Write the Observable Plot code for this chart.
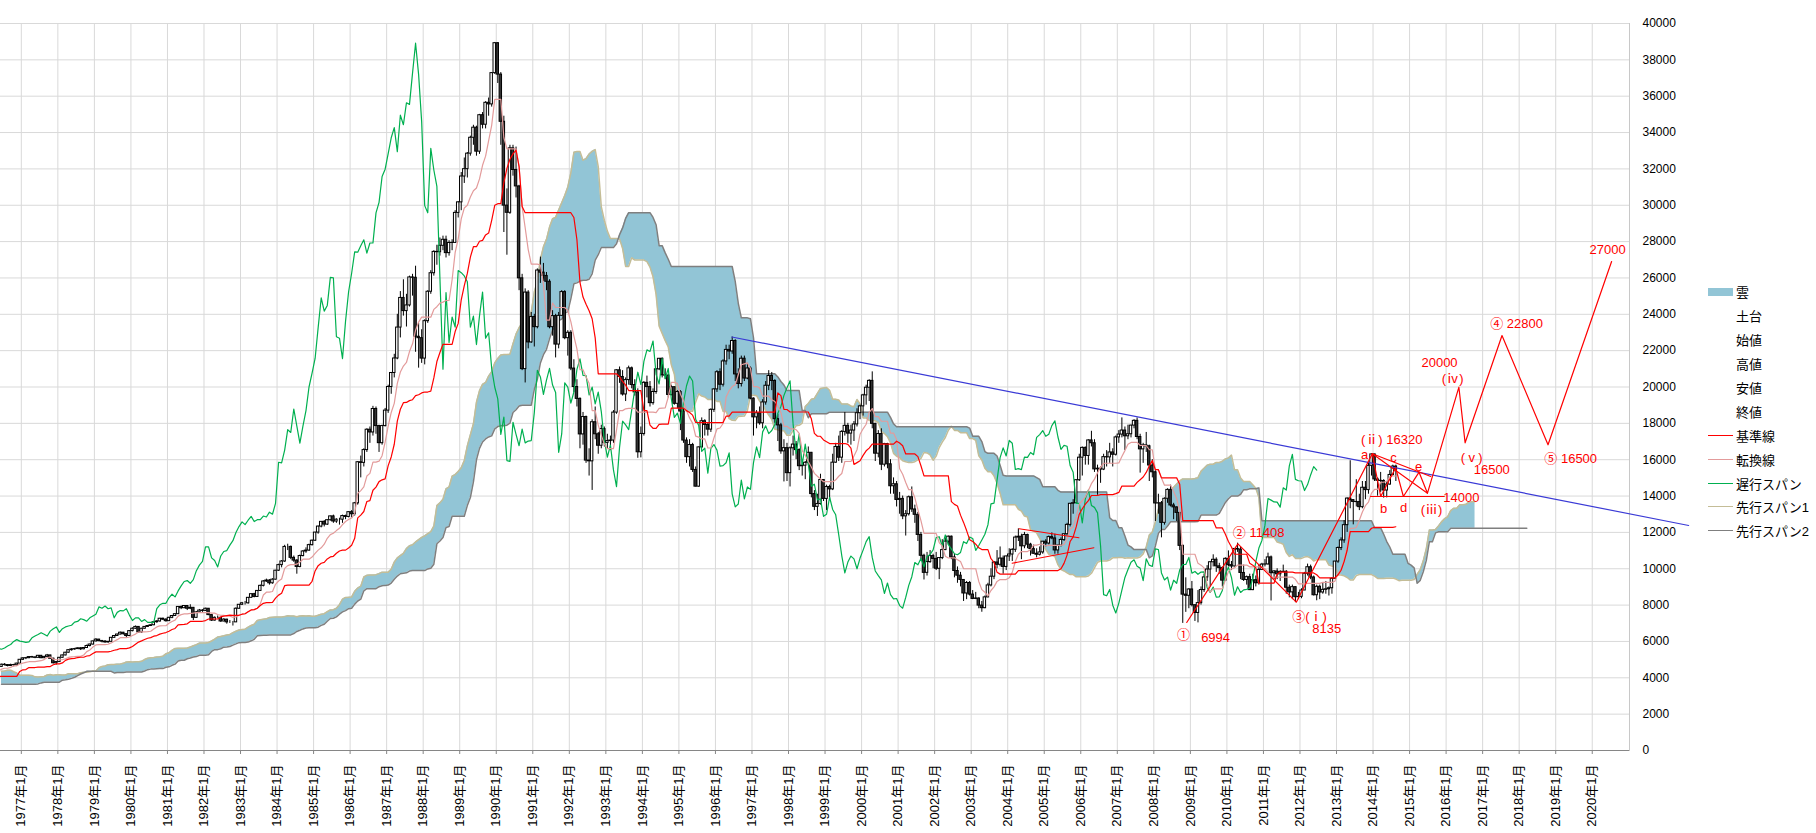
<!DOCTYPE html>
<html><head><meta charset="utf-8">
<script src="https://cdn.jsdelivr.net/npm/d3@7"></script>
<script src="https://cdn.jsdelivr.net/npm/@observablehq/plot@0.6"></script>
<style>
body{margin:0;background:#fff;}
#wrap{position:relative;width:1816px;height:833px;overflow:hidden;}
#legend{position:absolute;left:1708px;top:280px;font:13px "Liberation Sans","Noto Sans CJK JP",sans-serif;color:#000;}
#legend .it{height:23.9px;display:flex;align-items:center;white-space:nowrap;}
#legend .sw{width:25px;margin-right:3px;flex:none;}
</style></head><body>
<div id="wrap"><div id="chart"></div><div id="legend"></div></div>
<script>
// Monthly Nikkei 225 data, starting January 1970 (one row per year)
const startYear = 1970;
const opens = [
2359,2360,2390,2410,2230,2200,2140,2050,1990,2000,2010,1960,
1987,2100,2190,2360,2470,2500,2600,2720,2420,2470,2510,2600,
2714,2900,3080,3230,3400,3500,3700,4000,4400,4250,4300,4700,
5208,5000,4900,4880,4560,4780,4950,4800,4700,4650,4730,4300,
4307,4320,4330,4350,4280,4400,4340,4150,3850,3700,3750,3900,
3817,4050,4320,4370,4400,4480,4530,4260,4100,4160,4350,4280,
4359,4620,4760,4620,4590,4600,4720,4700,4650,4700,4690,4780,
4991,5070,5080,5140,5120,5100,5210,5080,5150,5230,5050,4800,
4866,5100,5230,5380,5520,5560,5580,5620,5570,5640,5750,5830,
6002,6100,6020,5990,5950,5980,6200,6300,6380,6480,6400,6300,
6569,6700,6800,6500,6700,6800,6850,6890,7060,7100,7250,7200,
7116,7300,7400,7500,7900,7830,7950,7800,7850,7300,7600,7700,
7682,7800,7450,7150,7300,7300,7100,7200,7050,7050,7050,7800,
8017,8100,8100,8400,8600,8450,8780,9060,9300,9350,9200,9400,
9894,10200,10400,11200,11200,10600,10450,10100,10700,10950,11000,11300,
11543,11990,12320,12580,12430,12670,12880,12600,12700,12700,12900,12850,
13113,13000,13600,15860,15825,16530,17650,17500,18790,17850,16910,17850,
18701,20000,20770,21570,23270,24900,24176,24488,26029,26010,22765,22686,
21564,23622,25242,26260,27434,27417,27769,28100,27366,27924,27929,29579,
30159,31581,31986,32839,33713,34267,32949,34954,34431,35637,35549,37269,
38916,37189,34592,29980,29585,33131,31940,31036,25979,20984,25195,22455,
23849,23293,26409,26292,26111,25790,23291,23900,22336,23916,25222,22687,
22984,21014,20000,19346,17391,18348,15952,15910,18061,17399,16768,17684,
16925,17024,17054,18591,20919,20552,19590,20380,21027,20106,19703,16408,
17417,20229,19997,19112,19725,20973,21552,20642,20629,19564,19990,19076,
19723,18650,17053,16140,16807,15437,14517,16678,18117,17913,17655,18744,
19868,20813,20125,21407,22041,21956,22531,20693,20167,21556,20467,21020,
19361,18330,18557,18003,19151,20069,20605,20331,18229,17888,16459,16636,
15259,16628,16832,16527,15641,15671,15830,16379,14108,13406,13565,14884,
13842,14499,14368,15837,16702,16112,17530,17862,17437,17605,17942,18558,
18934,19540,19960,20337,17974,16332,17411,15727,16861,15747,14539,14649,
13786,13844,12884,12999,13934,13262,12969,11861,10714,9775,10366,10697,
10543,9998,10588,11025,11493,11764,10622,9877,9619,9383,8640,9216,
8579,8340,8363,7973,7831,8425,9083,9563,10344,10219,10560,10101,
10677,10784,11042,11715,11762,11236,11859,11326,11082,10824,10771,10899,
11489,11388,11741,11668,11009,11277,11584,11900,12414,13574,13607,14872,
16111,16650,16206,17060,16906,15467,15505,15457,16141,16128,16399,16274,
17226,17383,17604,17288,17400,17876,18138,17249,16569,16786,16738,15681,
15308,13592,13604,12526,13850,14339,13482,13377,13073,11260,8577,8512,
8860,7994,7568,8110,8828,9523,9958,10357,10493,10133,10035,9346,
10546,10198,10126,11090,11057,9769,9383,9537,8824,9369,9202,9937,
10229,10238,10624,9755,9850,9694,9816,9833,8955,8700,8988,8435,
8455,8803,9723,10084,9521,8543,9007,8695,8840,8870,8928,9446,
10395,11139,11559,12398,13861,13775,13677,13668,13389,14456,14328,15662,
16291,14915,14841,14828,14304,14632,15162,15621];
const highs = [
2420,2430,2530,2440,2290,2250,2170,2080,2060,2060,2040,2010,
2120,2210,2380,2500,2540,2620,2740,2740,2500,2540,2630,2730,
2920,3100,3260,3430,3560,3720,4030,4450,4450,4400,4720,5230,
5359,5100,5000,4900,4800,5000,5000,4850,4760,4800,4750,4450,
4500,4450,4450,4400,4500,4450,4360,4160,3900,3800,3950,3930,
4080,4350,4400,4450,4520,4570,4560,4280,4200,4380,4380,4380,
4650,4800,4790,4680,4650,4750,4780,4730,4750,4740,4800,5000,
5100,5120,5170,5180,5150,5230,5230,5180,5287,5240,5080,4900,
5120,5250,5400,5540,5600,5620,5650,5660,5660,5800,5850,6020,
6150,6120,6060,6050,6000,6220,6330,6400,6520,6500,6420,6590,
6750,6850,6820,6720,6820,6880,6920,7080,7150,7270,7280,7250,
7330,7420,7530,7920,7950,7970,7980,8019,7870,7650,7760,7750,
7830,7810,7460,7350,7400,7320,7250,7220,7150,7100,7850,8030,
8150,8200,8420,8620,8650,8800,9100,9350,9430,9400,9450,9910,
10250,10450,11290,11350,11250,10700,10500,10750,11000,11150,11350,11580,
12000,12350,12600,12650,12700,12900,12950,12750,12780,12950,12950,13130,
13200,13650,15900,16200,16600,17700,17800,18936,18900,17900,17900,18820,
20100,20800,21800,24000,25250,25900,25100,26100,26200,26646,23500,23150,
23700,25300,26400,27500,27800,28200,28300,28300,28050,28100,29700,30200,
31800,32600,32900,33800,34400,34350,35000,35100,35700,35900,37300,38957,
38950,37300,34900,30900,33300,33300,33200,31100,26200,25400,25300,24100,
24000,26500,27146,26800,26300,25900,24200,24000,24100,25300,25300,23100,
23100,21500,20400,19400,18600,18400,16600,18200,18900,17500,17900,17800,
17400,17300,18700,20950,21100,20900,20500,21148,21100,20400,19900,17800,
20300,20600,20300,19900,21000,21573,21600,21000,20700,20100,20000,19800,
19800,18800,17200,17100,16900,15600,16700,18300,18200,18000,18800,19900,
20900,21000,21500,22300,22300,22750,22600,21000,21700,21700,21300,21100,
19400,18700,18900,19300,20300,20900,20800,20400,18500,18000,17100,16900,
16700,17300,17000,16600,16000,15900,16700,16400,14300,14100,15200,14900,
14600,14600,16300,16900,17300,17600,18600,18000,17900,18100,18800,19000,
19600,20100,20400,20833,18000,17600,17700,16900,16900,16000,15000,14800,
14200,14000,13200,14000,14500,13500,13100,12000,10800,10900,11000,10800,
10900,10600,11600,11700,11800,11800,10800,10100,9800,9400,9300,9300,
8800,8700,8400,8200,8500,9200,10000,10400,11000,11200,10700,10700,
11100,11100,11800,12195,11900,12000,11900,11400,11300,11100,11200,11500,
11600,11800,11975,11900,11300,11700,11900,12500,13600,13800,14900,16300,
16700,16700,17100,17563,17100,15700,15600,16300,16500,16900,16600,17300,
17600,18300,17800,17900,17900,18200,18297,17400,16900,17500,16800,16000,
15400,14100,13700,13900,14400,14600,13600,13400,13100,11300,9500,8900,
9300,8000,8800,9000,9700,10170,10400,10767,10600,10300,10100,10600,
10982,10400,11100,11408,11200,10200,9600,9700,9700,9600,10200,10300,
10500,10858,10700,9900,10000,9900,10200,9900,9100,9100,9000,8700,
8900,9800,10255,10200,9600,9100,9100,9200,9300,9000,9500,10400,
11200,11700,12650,13900,15942,13800,14900,14100,14800,14800,15800,16320,
16300,15000,15300,14900,14800,15400,15700,15700];
const lows = [
2300,2330,2370,2120,2100,2100,2020,1930,1940,1970,1930,1940,
1970,2080,2170,2340,2440,2480,2580,2160,2380,2420,2480,2580,
2700,2880,3060,3200,3380,3480,3680,3980,4150,4200,4280,4680,
4900,4750,4700,4500,4500,4750,4750,4600,4550,4600,4250,4180,
4150,4200,4250,4200,4260,4250,4100,3800,3600,3355,3700,3780,
3780,4030,4280,4330,4380,4450,4240,4050,3950,4150,4250,4250,
4350,4600,4600,4520,4520,4580,4650,4600,4620,4600,4650,4770,
4950,5000,5050,5080,5050,5080,5050,5050,5130,5030,4760,4700,
4850,5080,5210,5360,5470,5520,5560,5500,5540,5620,5700,5800,
5980,5980,5920,5900,5900,5960,6180,6280,6360,6350,6200,6280,
6530,6670,6450,6450,6680,6770,6820,6870,7000,7060,7150,7060,
7100,7250,7380,7480,7750,7800,7700,7750,7150,7280,7550,7600,
7650,7420,7100,7120,7250,7050,7080,6950,6990,6849,7040,7760,
7990,8000,8050,8380,8400,8420,8750,9000,9250,9100,9150,9380,
9850,10050,10350,11000,10500,10350,9700,10050,10650,10850,10950,11250,
11500,11900,12250,12300,12380,12620,12500,12500,12400,12500,12700,12800,
12800,12900,13500,15000,15600,16400,16900,17300,17400,16400,16800,17800,
18550,19600,20500,21500,22700,23900,23300,24400,25000,21910,21037,21300,
21217,23500,25100,26100,26700,27200,27500,27100,27200,27500,27900,29300,
29700,31200,31500,32700,33300,32700,32800,34200,34200,34900,35400,37200,
36700,33300,28500,27251,29500,31600,30400,25300,20900,20222,22100,22400,
22200,23200,25700,25800,25300,23200,22800,21600,22100,23900,22600,21700,
20900,19700,18900,16600,16800,15800,15100,14309,17100,16300,16600,16700,
16600,16500,16900,18500,20200,19500,19200,20100,19900,19500,16078,16100,
17300,19400,18900,19000,19600,20900,20500,20400,19400,19500,19000,18800,
17600,16900,15800,15600,15300,14500,14485,16600,17300,17300,17500,18600,
19700,19800,20000,21200,21500,21800,20300,19900,20000,20300,20400,19300,
17300,17700,17900,17700,19000,19800,19800,18000,17000,16300,14776,14800,
14500,16200,16000,15400,15100,14900,15700,13900,13200,12879,13500,13700,
13200,13800,14300,15800,15900,15800,17300,16900,16800,17000,17800,18200,
18400,19000,19200,17700,15900,16100,15400,15600,15500,14100,14100,13400,
13000,12700,11800,12900,13100,12500,11500,10500,9382,9600,10300,10000,
9900,9400,10500,11000,11300,10500,9500,9200,9000,8200,8300,8500,
8300,8300,7800,7607,7800,8400,9000,9400,10000,10100,9700,9900,
10400,10400,10900,11500,10500,11100,11100,10700,10800,10600,10700,10800,
11200,11300,11600,10800,10800,11200,11500,11800,12300,13000,13600,14800,
15100,15700,15700,16700,15300,14045,14700,15400,15600,15800,15600,16200,
16900,17200,16500,17100,17200,17700,17100,15262,15800,16400,14800,15000,
12600,13000,11700,12400,13600,13400,12700,12600,11000,6994,7600,7800,
7900,7100,7021,8000,8700,9300,9000,10100,9800,9700,9000,9300,
10100,9900,10100,10900,9400,9300,9100,8800,8796,9000,9100,9900,
10100,10200,8227,9400,9400,9300,9800,8600,8400,8300,8135,8300,
8350,8800,9600,9400,8500,8238,8300,8600,8600,8500,8600,9400,
10300,11000,11400,12000,13300,12415,13400,13200,13300,13800,14100,15100,
14800,13995,14200,13885,13900,14600,15100,14800];
const closes = [
2360,2390,2410,2230,2200,2140,2050,1990,2000,2010,1960,1987,
2100,2190,2360,2470,2500,2600,2720,2420,2470,2510,2600,2714,
2900,3080,3230,3400,3500,3700,4000,4400,4250,4300,4700,5208,
5000,4900,4880,4560,4780,4950,4800,4700,4650,4730,4300,4307,
4320,4330,4350,4280,4400,4340,4150,3850,3700,3750,3900,3817,
4050,4320,4370,4400,4480,4530,4260,4100,4160,4350,4280,4359,
4620,4760,4620,4590,4600,4720,4700,4650,4700,4690,4780,4991,
5070,5080,5140,5120,5100,5210,5080,5150,5230,5050,4800,4866,
5100,5230,5380,5520,5560,5580,5620,5570,5640,5750,5830,6002,
6100,6020,5990,5950,5980,6200,6300,6380,6480,6400,6300,6569,
6700,6800,6500,6700,6800,6850,6890,7060,7100,7250,7200,7116,
7300,7400,7500,7900,7830,7950,7800,7850,7300,7600,7700,7682,
7800,7450,7150,7300,7300,7100,7200,7050,7050,7050,7800,8017,
8100,8100,8400,8600,8450,8780,9060,9300,9350,9200,9400,9894,
10200,10400,11200,11200,10600,10450,10100,10700,10950,11000,11300,11543,
11990,12320,12580,12430,12670,12880,12600,12700,12700,12900,12850,13113,
13000,13600,15860,15825,16530,17650,17500,18790,17850,16910,17850,18701,
20000,20770,21570,23270,24900,24176,24488,26029,26010,22765,22686,21564,
23622,25242,26260,27434,27417,27769,28100,27366,27924,27929,29579,30159,
31581,31986,32839,33713,34267,32949,34954,34431,35637,35549,37269,38916,
37189,34592,29980,29585,33131,31940,31036,25979,20984,25195,22455,23849,
23293,26409,26292,26111,25790,23291,23900,22336,23916,25222,22687,22984,
21014,20000,19346,17391,18348,15952,15910,18061,17399,16768,17684,16925,
17024,17054,18591,20919,20552,19590,20380,21027,20106,19703,16408,17417,
20229,19997,19112,19725,20973,21552,20642,20629,19564,19990,19076,19723,
18650,17053,16140,16807,15437,14517,16678,18117,17913,17655,18744,19868,
20813,20125,21407,22041,21956,22531,20693,20167,21556,20467,21020,19361,
18330,18557,18003,19151,20069,20605,20331,18229,17888,16459,16636,15259,
16628,16832,16527,15641,15671,15830,16379,14108,13406,13565,14884,13842,
14499,14368,15837,16702,16112,17530,17862,17437,17605,17942,18558,18934,
19540,19960,20337,17974,16332,17411,15727,16861,15747,14539,14649,13786,
13844,12884,12999,13934,13262,12969,11861,10714,9775,10366,10697,10543,
9998,10588,11025,11493,11764,10622,9877,9619,9383,8640,9216,8579,
8340,8363,7973,7831,8425,9083,9563,10344,10219,10560,10101,10677,
10784,11042,11715,11762,11236,11859,11326,11082,10824,10771,10899,11489,
11388,11741,11668,11009,11277,11584,11900,12414,13574,13607,14872,16111,
16650,16206,17060,16906,15467,15505,15457,16141,16128,16399,16274,17226,
17383,17604,17288,17400,17876,18138,17249,16569,16786,16738,15681,15308,
13592,13604,12526,13850,14339,13482,13377,13073,11260,8577,8512,8860,
7994,7568,8110,8828,9523,9958,10357,10493,10133,10035,9346,10546,
10198,10126,11090,11057,9769,9383,9537,8824,9369,9202,9937,10229,
10238,10624,9755,9850,9694,9816,9833,8955,8700,8988,8435,8455,
8803,9723,10084,9521,8543,9007,8695,8840,8870,8928,9446,10395,
11139,11559,12398,13861,13775,13677,13668,13389,14456,14328,15662,16291,
14915,14841,14828,14304,14632,15162,15621,15425];

// Axis ticks
const yearTicks = d3.range(1977, 2021);
const yTicks = d3.range(0, 40001, 2000);

// Wave-count annotations (t = decimal year)
const wavePoints = [
  {t:2008.90,v:7043},{t:2010.30,v:11372},{t:2011.90,v:8160},{t:2013.98,v:16324},
  {t:2014.21,v:13975},{t:2014.62,v:15554},{t:2014.83,v:13975},{t:2015.26,v:15313},
  {t:2015.49,v:14157},{t:2016.35,v:19989},{t:2016.52,v:16930},{t:2017.53,v:22833},
  {t:2018.79,v:16819},{t:2020.53,v:26905}];
const helperLines = [
  {k:"diag",t:2013.98,v:16324},{k:"diag",t:2015.49,v:14157},
  {k:"upper",t:2013.98,v:16324},{k:"upper",t:2015.58,v:15075},
  {k:"base",t:2013.93,v:13975},{k:"base",t:2015.95,v:13975},
  {k:"tri1",t:2004.31,v:12198},{k:"tri1",t:2005.95,v:11702},
  {k:"tri2",t:2004.12,v:10305},{k:"tri2",t:2006.36,v:11152}];
const trendLine = [{t:1996.45,v:22750},{t:2022.64,v:12380}];
const waveLabels = [
  {t:2008.81,v:6382,s:"①"},{t:2009.69,v:6217,s:"6994"},
  {t:2010.87,v:11994,s:"② 11408"},
  {t:2012.26,v:7373,s:"③(ⅰ)"},{t:2012.73,v:6712,s:"8135"},
  {t:2014.51,v:17111,s:"(ⅱ) 16320"},
  {t:2013.77,v:16286,s:"a"},{t:2014.29,v:13315,s:"b"},{t:2014.56,v:16100,s:"c"},
  {t:2014.84,v:13370,s:"d"},{t:2015.25,v:15626,s:"e"},
  {t:2015.60,v:13260,s:"(ⅲ)"},{t:2016.42,v:13920,s:"14000"},
  {t:2015.82,v:21348,s:"20000"},{t:2016.18,v:20467,s:"(ⅳ)"},
  {t:2016.70,v:16121,s:"(ⅴ)"},{t:2017.25,v:15461,s:"16500"},
  {t:2017.93,v:23494,s:"④ 22800"},{t:2019.41,v:16066,s:"⑤ 16500"},
  {t:2020.42,v:27565,s:"27000"}];

// Legend entries
const legendItems = [
  {name:"雲",kind:"box",color:"#92C5D6"},
  {name:"土台",kind:"none"},{name:"始値",kind:"none"},{name:"高値",kind:"none"},
  {name:"安値",kind:"none"},{name:"終値",kind:"none"},
  {name:"基準線",kind:"line",color:"#FF0000"},
  {name:"転換線",kind:"line",color:"#E39B9B"},
  {name:"遅行スパン",kind:"line",color:"#00B050"},
  {name:"先行スパン1",kind:"line",color:"#C4BD97"},
  {name:"先行スパン2",kind:"line",color:"#7F7F7F"}];

// ---------- build tables ----------
const N = closes.length;
const tAt = i => startYear + (i + 0.5) / 12;
const candles = closes.map((c, i) => ({t: tAt(i), o: opens[i], h: highs[i], l: lows[i], c}));
function midRange(a, b) {
  let hi = -Infinity, lo = Infinity;
  for (let k = Math.max(0, a); k <= Math.min(b, N - 1); k++) {
    if (highs[k] > hi) hi = highs[k];
    if (lows[k] < lo) lo = lows[k];
  }
  return (hi + lo) / 2;
}
const tenkan = [], kijun = [], chikou = [], span1 = [], span2 = [], cloud = [];
for (let i = 0; i < N; i++) {
  if (i >= 8) tenkan.push({t: tAt(i), v: midRange(i - 8, i)});
  if (i >= 25) kijun.push({t: tAt(i), v: midRange(i - 25, i)});
  if (i >= 26) chikou.push({t: tAt(i - 26), v: closes[i]});
}
for (let i = 51; i < N; i++) {
  const a = (midRange(i - 8, i) + midRange(i - 25, i)) / 2;
  const b = midRange(i - 51, i);
  span1.push({t: tAt(i + 26), v: a});
  span2.push({t: tAt(i + 26), v: b});
  cloud.push({t: tAt(i + 26), a, b});
}
for (let i = N; i < N + 17; i++) span2.push({t: tAt(i + 26), v: midRange(i - 51, i)});

const up = candles.filter(d => d.c >= d.o);
const down = candles.filter(d => d.c < d.o);
const hw = 0.4 / 12;

const chart = Plot.plot({
  width: 1816, height: 833,
  marginLeft: 0, marginRight: 187, marginTop: 23, marginBottom: 83,
  x: {type: "linear", domain: [1976.43, 2021.02]},
  y: {domain: [0, 40000]},
  style: {fontFamily: '"Liberation Sans","Noto Sans CJK JP",sans-serif', fontSize: "12px", color: "#000", background: "#fff"},
  marks: [
    Plot.gridX(yearTicks, {stroke: "#d9d9d9", strokeOpacity: 1}),
    Plot.gridY(yTicks, {stroke: "#d9d9d9", strokeOpacity: 1}),
    Plot.frame({anchor: "right", stroke: "#c8c8c8"}),
    Plot.areaY(cloud, {x: "t", y1: "a", y2: "b", fill: "#92C5D6", fillOpacity: 1, clip: true}),
    Plot.line(span1, {x: "t", y: "v", stroke: "#C4BD97", strokeWidth: 1.5, clip: true}),
    Plot.line(span2, {x: "t", y: "v", stroke: "#7F7F7F", strokeWidth: 1.5, clip: true}),
    Plot.ruleX(candles, {x: "t", y1: "l", y2: "h", stroke: "#000", strokeWidth: 1, clip: true}),
    Plot.rect(up, {x1: d => d.t - hw, x2: d => d.t + hw, y1: "o", y2: "c", fill: "#fff", stroke: "#000", strokeWidth: 1, clip: true}),
    Plot.rect(down, {x1: d => d.t - hw, x2: d => d.t + hw, y1: "o", y2: "c", fill: "#333", stroke: "#000", strokeWidth: 1, clip: true}),
    Plot.line(chikou, {x: "t", y: "v", stroke: "#00B050", strokeWidth: 1.2, clip: true}),
    Plot.line(tenkan, {x: "t", y: "v", stroke: "#E39B9B", strokeWidth: 1.2, clip: true}),
    Plot.line(kijun, {x: "t", y: "v", stroke: "#FF0000", strokeWidth: 1.2, clip: true}),
    Plot.line(trendLine, {x: "t", y: "v", stroke: "#3a3ad6", strokeWidth: 1.2}),
    Plot.line(helperLines, {x: "t", y: "v", z: "k", stroke: "#FF0000", strokeWidth: 1.1}),
    Plot.line(wavePoints, {x: "t", y: "v", stroke: "#FF0000", strokeWidth: 1.2}),
    Plot.text(waveLabels, {x: "t", y: "v", text: "s", fill: "#FF0000", fontSize: 13}),
    Plot.ruleY([0], {stroke: "#868686"}),
    Plot.axisY(yTicks, {anchor: "right", tickSize: 0, tickPadding: 13, tickFormat: d => String(d), label: null, fontSize: 12}),
    Plot.axisX(yearTicks, {anchor: "bottom", tickRotate: -90, tickSize: 4, tickPadding: 10, stroke: "#868686", tickFormat: y => `${y}年1月`, label: null, fontSize: 13})
  ]
});
document.getElementById("chart").appendChild(chart);

const lg = document.getElementById("legend");
for (const it of legendItems) {
  const row = document.createElement("div"); row.className = "it";
  const sw = document.createElement("div"); sw.className = "sw";
  if (it.kind === "box") { sw.style.height = "8px"; sw.style.background = it.color; }
  else if (it.kind === "line") { sw.style.height = "0"; sw.style.borderTop = "1.5px solid " + it.color; }
  else sw.style.height = "1px";
  const tx = document.createElement("span"); tx.textContent = it.name;
  row.appendChild(sw); row.appendChild(tx); lg.appendChild(row);
}
</script>
</body></html>
